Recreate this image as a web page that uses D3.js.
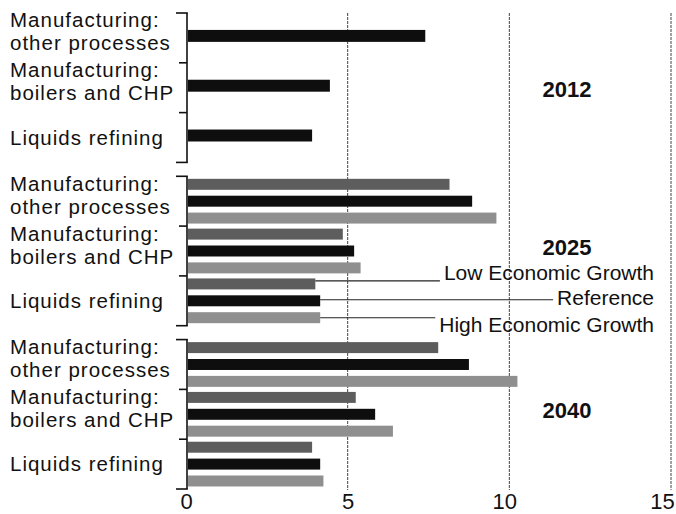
<!DOCTYPE html>
<html>
<head>
<meta charset="utf-8">
<script src="https://cdn.jsdelivr.net/npm/d3@7"></script>
<style>
  html, body { margin: 0; padding: 0; background: #fff; }
  svg { display: block; font-family: "Liberation Sans", Arial, sans-serif; }
</style>
</head>
<body>
<svg id="chart" width="676" height="514"></svg>
<script>
// ---------------- data ----------------
const years = ["2012", "2025", "2040"];
const categories = ["Manufacturing: other processes", "Manufacturing: boilers and CHP", "Liquids refining"];
const categoryLines = [["Manufacturing:", "other processes"], ["Manufacturing:", "boilers and CHP"], ["Liquids refining"]];
const series = ["Low Economic Growth", "Reference", "High Economic Growth"];

const ref2012 = [7.4, 4.45, 3.9];
const low2025 = [8.15, 4.85, 4.0];
const ref2025 = [8.85, 5.2, 4.15];
const high2025 = [9.6, 5.4, 4.15];
const low2040 = [7.8, 5.25, 3.9];
const ref2040 = [8.75, 5.85, 4.15];
const high2040 = [10.25, 6.4, 4.25];

const xTicks = [0, 5, 10, 15];

// build table
const rows = [];
categories.forEach((c, i) => {
  rows.push({ year: "2012", cat: c, ser: "Reference", v: ref2012[i] });
  rows.push({ year: "2025", cat: c, ser: "Low Economic Growth", v: low2025[i] });
  rows.push({ year: "2025", cat: c, ser: "Reference", v: ref2025[i] });
  rows.push({ year: "2025", cat: c, ser: "High Economic Growth", v: high2025[i] });
  rows.push({ year: "2040", cat: c, ser: "Low Economic Growth", v: low2040[i] });
  rows.push({ year: "2040", cat: c, ser: "Reference", v: ref2040[i] });
  rows.push({ year: "2040", cat: c, ser: "High Economic Growth", v: high2040[i] });
});

// ---------------- scales ----------------
const svg = d3.select("#chart");
const x = d3.scaleLinear().domain([0, 15]).range([186, 671]);
const yYear = d3.scaleBand().domain(years).range([13, 489]).paddingInner(0.085);
const yCat = d3.scaleBand().domain(categories).range([0, yYear.bandwidth()]);
const ySer = d3.scaleBand().domain(series).range([0, yCat.bandwidth()]).paddingInner(0.35).paddingOuter(0.15);
const ySingle = d3.scaleBand().domain(["Reference"]).range([0, yCat.bandwidth()]).padding(0.613);
const color = d3.scaleOrdinal().domain(series).range(["#5d5d5d", "#0e0e0e", "#8f8f8f"]);

function barY(d) {
  const base = yYear(d.year) + yCat(d.cat);
  return d.year === "2012" ? base + ySingle(d.ser) - 2 : base + ySer(d.ser);
}
function barH(d) { return d.year === "2012" ? ySingle.bandwidth() : ySer.bandwidth(); }

// ---------------- gridlines ----------------
svg.append("g").selectAll("line").data(xTicks.filter(t => t > 0)).join("line")
  .attr("x1", d => x(d)).attr("x2", d => x(d))
  .attr("y1", 13).attr("y2", 490)
  .attr("stroke", "#444").attr("stroke-width", 1).attr("stroke-dasharray", "3,1");

// ---------------- bars ----------------
svg.append("g").selectAll("rect").data(rows).join("rect")
  .attr("x", x(0) + 2)
  .attr("y", d => barY(d))
  .attr("width", d => x(d.v) - x(0) - 2)
  .attr("height", d => barH(d))
  .attr("fill", d => color(d.ser));

// ---------------- brackets ----------------
const bx = x(0) + 1;
const br = svg.append("g").attr("stroke", "#111").attr("stroke-width", 1.6).attr("fill", "none");
years.forEach(yr => {
  const top = yYear(yr), bot = yYear(yr) + yYear.bandwidth();
  br.append("line").attr("x1", bx).attr("x2", bx).attr("y1", top).attr("y2", bot);
  br.append("line").attr("x1", bx - 11).attr("x2", bx + 0.8).attr("y1", top).attr("y2", top);
  br.append("line").attr("x1", bx - 11).attr("x2", bx + 0.8).attr("y1", bot).attr("y2", bot);
  categories.slice(1).forEach(c => {
    const yy = top + yCat(c);
    br.append("line").attr("x1", bx - 8).attr("x2", bx).attr("y1", yy).attr("y2", yy);
  });
});

// ---------------- category labels ----------------
const lab = svg.append("g").attr("font-size", 20.5).attr("fill", "#111").attr("letter-spacing", 1.0);
years.forEach(yr => {
  categories.forEach((c, i) => {
    const cy = yYear(yr) + yCat(c) + yCat.bandwidth() / 2;
    const lines = categoryLines[i];
    if (lines.length === 2) {
      const t = lab.append("text").attr("x", 10).attr("y", cy - 10.5);
      t.append("tspan").attr("x", 10).text(lines[0]);
      t.append("tspan").attr("x", 10).attr("dy", 23).text(lines[1]);
    } else {
      lab.append("text").attr("x", 10).attr("y", cy + 7).text(lines[0]);
    }
  });
});

// ---------------- year labels ----------------
const yearOffset = { "2012": 9.5, "2025": 3.5, "2040": 4 };
svg.append("g").selectAll("text").data(years).join("text")
  .attr("x", 567).attr("text-anchor", "middle")
  .attr("y", d => yYear(d) + yYear.bandwidth() / 2 + yearOffset[d])
  .attr("font-size", 22).attr("font-weight", "bold").attr("fill", "#111")
  .text(d => d);

// ---------------- x axis ----------------
const ax = svg.append("g").attr("transform", "translate(0,488)")
  .call(d3.axisBottom(x).tickValues(xTicks).tickSize(0).tickPadding(5).tickFormat(d3.format("d")));
ax.select(".domain").remove();
ax.selectAll("text").attr("font-size", 22).attr("fill", "#111")
  .attr("font-family", '"Liberation Sans", Arial, sans-serif')
  .attr("dx", d => d === 15 ? -9 : (d === 10 ? -5 : 0));

// ---------------- legend (leader lines) ----------------
const liq = categories[2];
const legOffsets = [-1, 5, 14];
const legLineDy = [-3, -1, 0];
const leg = svg.append("g");
series.forEach((s, i) => {
  const d = rows.find(r => r.year === "2025" && r.cat === liq && r.ser === s);
  const ly = barY(d) + barH(d) / 2 + legLineDy[i];
  const t = leg.append("text").attr("x", 654).attr("y", ly + legOffsets[i])
    .attr("text-anchor", "end").attr("font-size", 21).attr("fill", "#111").text(s);
  const start = 654 - t.node().getComputedTextLength();
  leg.append("line").attr("x1", x(d.v)).attr("x2", start - 4)
    .attr("y1", ly).attr("y2", ly).attr("stroke", "#222").attr("stroke-width", 1.1);
});
</script>
</body>
</html>
